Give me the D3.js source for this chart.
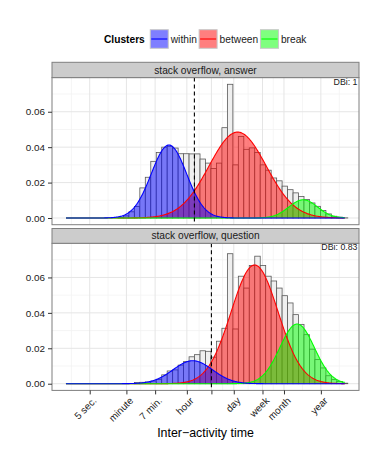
<!DOCTYPE html>
<html>
<head>
<meta charset="utf-8">
<script src="https://cdn.jsdelivr.net/npm/d3@7/dist/d3.min.js"></script>
<style>
  body { margin: 0; background: #fff; }
  text { font-family: "Liberation Sans", Arial, Helvetica, sans-serif; }
</style>
</head>
<body>
<svg id="chart" width="374" height="449"></svg>
<script>
// histogram of inter-activity times, log10(seconds), 52 bins centred on 0 .. 8.21
var binWidth = 8.21 / 51;

var answerDensity = [
  0, 0, 0, 0, 0, 0, 0, 0, 0, 0,
  0.0003, 0.0012, 0.0035, 0.0065, 0.017, 0.023, 0.032, 0.037, 0.040, 0.0405,
  0.0395, 0.0363, 0.0363, 0.0362, 0.0362, 0.0333, 0.031, 0.028, 0.031, 0.051,
  0.0755, 0.030, 0.046, 0.0388, 0.0396, 0.037, 0.030, 0.027, 0.0226, 0.021,
  0.018, 0.016, 0.0142, 0.0122, 0.0104, 0.0085, 0.0066, 0.0042, 0.0023, 0.001,
  0.0005, 0.0001
];

var questionDensity = [
  0, 0, 0, 0, 0, 0, 0, 0, 0, 0,
  0, 0, 0, 0.0007, 0.0008, 0.001, 0.0015, 0.0025, 0.005, 0.0072,
  0.0078, 0.0105, 0.0125, 0.0152, 0.0164, 0.0186, 0.0183, 0.015, 0.024, 0.0313,
  0.0734, 0.0309, 0.0607, 0.054, 0.0667, 0.072, 0.0667, 0.0607, 0.058, 0.054,
  0.0497, 0.0456, 0.039, 0.0335, 0.0277, 0.0195, 0.0136, 0.0089, 0.0045, 0.0023,
  0.0012, 0.0003
];

var panelNames = ["stack overflow, answer", "stack overflow, question"];
var dbiLabels = ["DBi: 1", "DBi: 0.83"];
var thresholdSeconds = [6000, 19000];

var clusterNames = ["within", "between", "break"];
var clusterColors = ["#0000ff", "#ff0000", "#00ff00"];

// fitted normal components: [mean log10 s, sd, peak density] for within, between, break
var answerFits = [[3.03, 0.52, 0.0412], [5.05, 0.84, 0.0485], [6.98, 0.42, 0.0103]];
var questionFits = [[3.73, 0.58, 0.013], [5.55, 0.69, 0.067], [6.80, 0.507, 0.0337]];

var xTickSeconds = [5, 60, 420, 3600, 19000, 86400, 604800, 2592000, 31536000];
var xTickLabels = ["5 sec.", "minute", "7 min.", "hour", "", "day", "week", "month", "year"];
var yTicks = [0, 0.02, 0.04, 0.06];

var svg = d3.select("#chart");
var left = 52, right = 359;
var panels = [
  { name: panelNames[0], dbi: dbiLabels[0], thr: thresholdSeconds[0], bars: answerDensity, fits: answerFits, stripTop: 62.3, top: 77.6, bottom: 224.7 },
  { name: panelNames[1], dbi: dbiLabels[1], thr: thresholdSeconds[1], bars: questionDensity, fits: questionFits, stripTop: 228.5, top: 243.3, bottom: 390.4 }
];

var xMin = 0, xMax = 8.21, xPad = (xMax - xMin) * 0.05;
var x = d3.scaleLog()
  .domain([Math.pow(10, xMin - xPad), Math.pow(10, xMax + xPad)])
  .range([left, right]);

var yMax = d3.max(answerDensity.concat(questionDensity));
var yPad = yMax * 0.05;

// minor breaks half way between the major ones (in log space)
var majorLog = xTickSeconds.map(function (d) { return Math.log10(d); });
var minorLog = [];
minorLog.push(majorLog[0] - (majorLog[1] - majorLog[0]) / 2);
for (var i = 0; i < majorLog.length - 1; i++) minorLog.push((majorLog[i] + majorLog[i + 1]) / 2);
minorLog.push(majorLog[majorLog.length - 1] + (majorLog[majorLog.length - 1] - majorLog[majorLog.length - 2]) / 2);
var yMinor = [0.01, 0.03, 0.05, 0.07];

var curveLog = d3.range(xMin, xMax + 0.0001, 0.02);

panels.forEach(function (p, pi) {
  var y = d3.scaleLinear().domain([-yPad, yMax + yPad]).range([p.bottom, p.top]);
  var g = svg.append("g");

  var clipId = "clip" + pi;
  svg.append("clipPath").attr("id", clipId)
    .append("rect").attr("x", left).attr("y", p.top)
    .attr("width", right - left).attr("height", p.bottom - p.top);

  g.append("rect").attr("x", left).attr("y", p.top)
    .attr("width", right - left).attr("height", p.bottom - p.top)
    .attr("fill", "#fff");

  var inner = g.append("g").attr("clip-path", "url(#" + clipId + ")");

  // grid
  inner.selectAll(".vminor").data(minorLog).enter().append("line")
    .attr("x1", function (d) { return x(Math.pow(10, d)); })
    .attr("x2", function (d) { return x(Math.pow(10, d)); })
    .attr("y1", p.top).attr("y2", p.bottom)
    .attr("stroke", "#f2f2f2").attr("stroke-width", 0.8);
  inner.selectAll(".hminor").data(yMinor).enter().append("line")
    .attr("x1", left).attr("x2", right)
    .attr("y1", function (d) { return y(d); }).attr("y2", function (d) { return y(d); })
    .attr("stroke", "#f2f2f2").attr("stroke-width", 0.8);
  inner.selectAll(".vmajor").data(xTickSeconds).enter().append("line")
    .attr("x1", function (d) { return x(d); }).attr("x2", function (d) { return x(d); })
    .attr("y1", p.top).attr("y2", p.bottom)
    .attr("stroke", "#e5e5e5").attr("stroke-width", 1);
  inner.selectAll(".hmajor").data(yTicks).enter().append("line")
    .attr("x1", left).attr("x2", right)
    .attr("y1", function (d) { return y(d); }).attr("y2", function (d) { return y(d); })
    .attr("stroke", "#e5e5e5").attr("stroke-width", 1);

  // total histogram
  inner.selectAll(".bar").data(p.bars).enter().append("rect")
    .attr("x", function (d, k) { return x(Math.pow(10, (k - 0.5) * binWidth)); })
    .attr("width", function (d, k) {
      return x(Math.pow(10, (k + 0.5) * binWidth)) - x(Math.pow(10, (k - 0.5) * binWidth));
    })
    .attr("y", function (d) { return y(d); })
    .attr("height", function (d) { return y(0) - y(d); })
    .attr("fill", "#efefef")
    .attr("stroke", "#595959").attr("stroke-width", 0.8);

  // cluster components
  var order = [1, 2, 0];
  var curves = p.fits.map(function (f) {
    return curveLog.map(function (lx) {
      var z = (lx - f[0]) / f[1];
      return { s: Math.pow(10, lx), v: f[2] * Math.exp(-0.5 * z * z) };
    });
  });
  var area = d3.area()
    .x(function (d) { return x(d.s); })
    .y0(y(0))
    .y1(function (d) { return y(d.v); });
  var line = d3.line()
    .x(function (d) { return x(d.s); })
    .y(function (d) { return y(d.v); });

  order.forEach(function (c) {
    inner.append("path").datum(curves[c])
      .attr("d", area)
      .attr("fill", clusterColors[c]).attr("fill-opacity", 0.5);
  });
  order.forEach(function (c) {
    inner.append("path").datum(curves[c])
      .attr("d", line)
      .attr("fill", "none")
      .attr("stroke", clusterColors[c]).attr("stroke-width", 1.1);
  });

  // threshold
  inner.append("line")
    .attr("x1", x(p.thr)).attr("x2", x(p.thr))
    .attr("y1", p.top).attr("y2", p.bottom)
    .attr("stroke", "#000").attr("stroke-width", 1.1)
    .attr("stroke-dasharray", "4,3");

  g.append("text")
    .attr("x", right - 1.5).attr("y", p.top + 7)
    .attr("text-anchor", "end")
    .attr("font-size", 8.8).attr("fill", "#1a1a1a")
    .text(p.dbi);

  g.append("rect").attr("x", left).attr("y", p.top)
    .attr("width", right - left).attr("height", p.bottom - p.top)
    .attr("fill", "none").attr("stroke", "#7f7f7f").attr("stroke-width", 1);

  // strip
  g.append("rect").attr("x", left).attr("y", p.stripTop)
    .attr("width", right - left).attr("height", p.top - p.stripTop)
    .attr("fill", "#cccccc").attr("stroke", "#7f7f7f").attr("stroke-width", 1);
  g.append("text")
    .attr("x", (left + right) / 2).attr("y", (p.stripTop + p.top) / 2)
    .attr("dy", "0.35em").attr("text-anchor", "middle")
    .attr("font-size", 10.2).attr("fill", "#1a1a1a")
    .text(p.name);

  // y axis
  var ya = g.append("g").attr("transform", "translate(" + left + ",0)")
    .call(d3.axisLeft(y).tickValues(yTicks).tickFormat(d3.format(".2f")).tickSize(4).tickPadding(3));
  ya.select(".domain").remove();
  ya.selectAll("line").attr("stroke", "#333");
  ya.selectAll("text").attr("font-size", 9.9).attr("fill", "#1a1a1a")
    .style("font-family", "'Liberation Sans', Arial, sans-serif");

  if (pi === 1) {
    var xa = g.append("g").attr("transform", "translate(0," + p.bottom + ")")
      .call(d3.axisBottom(x).tickValues(xTickSeconds)
        .tickFormat(function (d, i) { return xTickLabels[i]; }).tickSize(4));
    xa.select(".domain").remove();
    xa.selectAll("line").attr("stroke", "#333");
    xa.selectAll("text")
      .attr("x", 0).attr("y", 0).attr("dy", "0.71em")
      .attr("transform", "translate(2,6) rotate(-45)")
      .attr("text-anchor", "end")
      .attr("font-size", 9.9).attr("fill", "#1a1a1a")
      .style("font-family", "'Liberation Sans', Arial, sans-serif");
  }
});

// x axis title
svg.append("text")
  .attr("x", (left + right) / 2).attr("y", 437)
  .attr("text-anchor", "middle")
  .attr("font-size", 12.4).attr("fill", "#000")
  .text("Inter\u2212activity time");

// legend
var leg = svg.append("g");
var lx = 104, ly = 39;
var title = leg.append("text").attr("x", lx).attr("y", ly).attr("dy", "0.35em")
  .attr("font-size", 10.2).attr("font-weight", "bold").text("Clusters");
lx += title.node().getComputedTextLength() + 5.5;
clusterNames.forEach(function (name, c) {
  leg.append("rect").attr("x", lx).attr("y", ly - 9.3).attr("width", 18).attr("height", 18.6)
    .attr("fill", clusterColors[c]).attr("fill-opacity", 0.5)
    .attr("stroke", "#c8c8c8").attr("stroke-width", 1);
  leg.append("line").attr("x1", lx + 1).attr("x2", lx + 17).attr("y1", ly).attr("y2", ly)
    .attr("stroke", clusterColors[c]).attr("stroke-width", 1.1);
  lx += 20.5;
  var t = leg.append("text").attr("x", lx).attr("y", ly).attr("dy", "0.35em")
    .attr("font-size", 10.2).attr("fill", "#1a1a1a").text(name);
  lx += t.node().getComputedTextLength() + 2.3;
});
</script>
</body>
</html>
